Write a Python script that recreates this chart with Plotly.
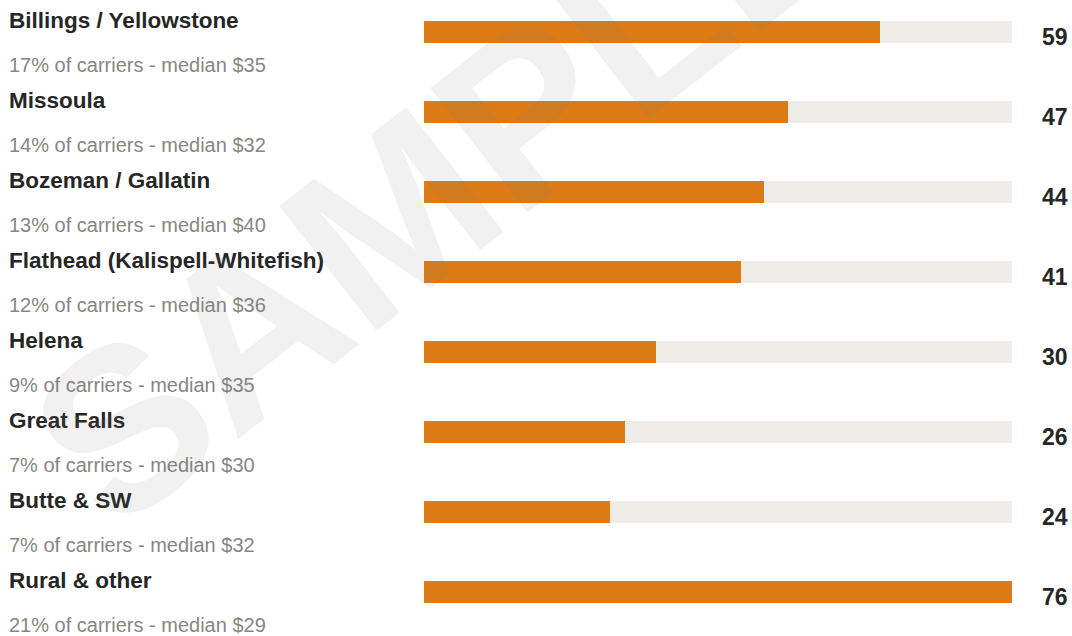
import plotly.graph_objects as go

# Carrier regions, their share/median notes and the values shown on each bar
regions = [
    "Billings / Yellowstone",
    "Missoula",
    "Bozeman / Gallatin",
    "Flathead (Kalispell-Whitefish)",
    "Helena",
    "Great Falls",
    "Butte & SW",
    "Rural & other",
]
shares = [17, 14, 13, 12, 9, 7, 7, 21]
medians = [35, 32, 40, 36, 35, 30, 32, 29]
values = [59, 47, 44, 41, 30, 26, 24, 76]

W, H = 1072, 636
ORANGE = "#dc7b16"
TRACK = "#efebe6"
DARK = "#262626"
GREY = "#8a8580"
FONT = "Liberation Sans, Arial, sans-serif"

rows = list(range(len(regions)))
max_val = max(values)

fig = go.Figure()

# light background track spanning the full scale
fig.add_trace(go.Bar(
    x=[max_val] * len(rows), y=rows, orientation="h",
    marker=dict(color=TRACK, line=dict(width=0)),
    width=0.275, hoverinfo="skip", showlegend=False,
))
# value bars
fig.add_trace(go.Bar(
    x=values, y=rows, orientation="h",
    marker=dict(color=ORANGE, line=dict(width=0)),
    width=0.275, showlegend=False,
    hovertemplate="%{x}<extra></extra>",
))

annotations = []
for i, (name, s, m, v) in enumerate(zip(regions, shares, medians, values)):
    annotations.append(dict(
        text=f"<b>{name}</b>", x=7 / W, xref="paper", y=i, yref="y",
        xanchor="left", yanchor="middle", yshift=12, showarrow=False,
        font=dict(family=FONT, size=22.5, color=DARK),
    ))
    annotations.append(dict(
        text=f"{s}% of carriers - median ${m}", x=7 / W, xref="paper", y=i, yref="y",
        xanchor="left", yanchor="middle", yshift=-33, showarrow=False,
        font=dict(family=FONT, size=20, color=GREY),
    ))
    annotations.append(dict(
        text=f"<b>{v}</b>", x=1070 / W, xref="paper", y=i, yref="y",
        xanchor="right", yanchor="middle", yshift=-5, showarrow=False,
        font=dict(family=FONT, size=23, color=DARK),
    ))

# diagonal watermark laid over the chart
annotations.append(dict(
    text="<b>SAMPLE</b>", x=441 / W, xref="paper", y=1 - 179 / H, yref="paper",
    xanchor="center", yanchor="middle", textangle=-38, showarrow=False,
    font=dict(family=FONT, size=230, color="rgba(120,120,120,0.1)"),
))

fig.update_layout(
    width=W, height=H,
    margin=dict(l=0, r=0, t=0, b=0),
    paper_bgcolor="white", plot_bgcolor="white",
    barmode="overlay", bargap=0,
    xaxis=dict(domain=[424 / W, 1012 / W], range=[0, max_val],
               visible=False, fixedrange=True),
    yaxis=dict(domain=[0, 1], range=[7.55, -0.4],
               visible=False, fixedrange=True),
    annotations=annotations,
)

fig.write_html("out.html")
